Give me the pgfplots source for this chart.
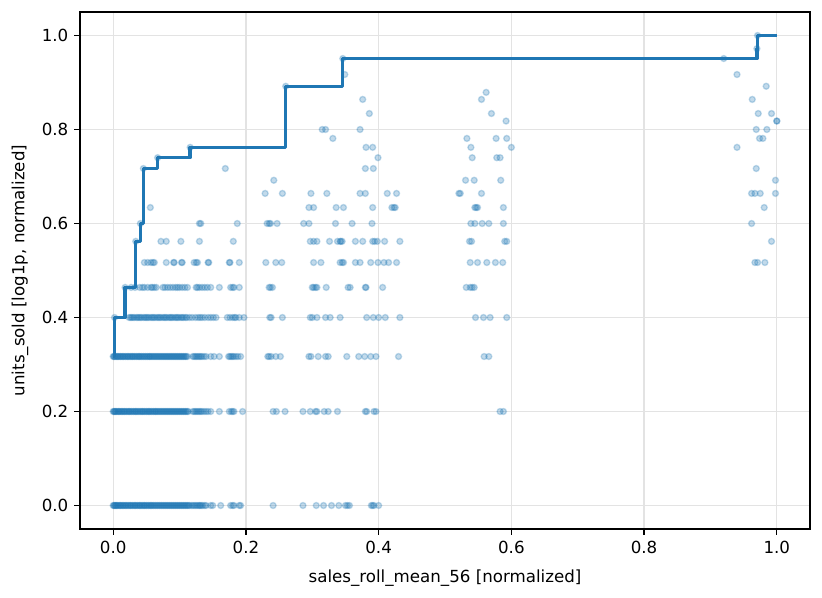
\documentclass[border=0pt]{standalone}
\usepackage{fontspec}
\setmainfont{DejaVu Sans}
\usepackage{pgfplots}
\pgfplotsset{compat=1.18}
\definecolor{tabblue}{HTML}{1F77B4}
\definecolor{gridgray}{HTML}{E3E3E3}

\begin{document}
\begin{tikzpicture}
\useasboundingbox (-48pt,-41.4pt) rectangle (445.2pt,317.4pt);
\begin{axis}[
  at={(0,0)}, anchor=south west,
  scale only axis, width=438pt, height=310.2pt,
  xmin=-0.05, xmax=1.05, ymin=-0.05, ymax=1.05,
  xtick={0,0.2,0.4,0.6,0.8,1}, ytick={0,0.2,0.4,0.6,0.8,1},
  /pgf/number format/assume math mode=true,
  xticklabel style={/pgf/number format/.cd, fixed, fixed zerofill, precision=1},
  yticklabel style={/pgf/number format/.cd, fixed, fixed zerofill, precision=1},
  tick label style={font=\fontsize{10}{12}\selectfont},
  tick align=outside, tick pos=left,
  major tick length=3.5pt,
  every tick/.append style={black, line width=0.8pt},
  axis line style={line width=0.8pt},
  grid=major, major grid style={gridgray, line width=0.8pt},
  xlabel={sales\_roll\_mean\_56 [normalized]},
  ylabel={units\_sold [log1p, normalized]},
  label style={font=\fontsize{10}{12}\selectfont},
  xlabel style={at={(axis description cs:0.5,0)}, anchor=center, yshift=-29.4pt},
  ylabel style={at={(axis description cs:0,0.5)}, anchor=center, yshift=36pt},
]
% individual observations
\addplot[only marks, mark=*, mark size=1.8pt,
  mark options={solid, draw=tabblue, fill=tabblue, opacity=0.27, line width=0.8pt}]
coordinates {
% 0 units
(0.000,0)(0.001,0)(0.002,0)(0.003,0)(0.004,0)(0.005,0)(0.006,0)(0.007,0)(0.009,0)(0.010,0)
(0.011,0)(0.012,0)(0.014,0)(0.015,0)(0.016,0)(0.018,0)(0.019,0)(0.020,0)(0.022,0)(0.023,0)
(0.025,0)(0.026,0)(0.027,0)(0.029,0)(0.030,0)(0.032,0)(0.033,0)(0.034,0)(0.036,0)(0.037,0)
(0.039,0)(0.040,0)(0.041,0)(0.043,0)(0.044,0)(0.046,0)(0.047,0)(0.048,0)(0.050,0)(0.051,0)
(0.053,0)(0.054,0)(0.056,0)(0.057,0)(0.058,0)(0.060,0)(0.061,0)(0.063,0)(0.064,0)(0.066,0)
(0.067,0)(0.069,0)(0.070,0)(0.072,0)(0.073,0)(0.075,0)(0.076,0)(0.078,0)(0.079,0)(0.081,0)
(0.082,0)(0.084,0)(0.085,0)(0.087,0)(0.088,0)(0.090,0)(0.091,0)(0.093,0)(0.094,0)(0.096,0)
(0.097,0)(0.099,0)(0.100,0)(0.102,0)(0.103,0)(0.105,0)(0.106,0)(0.108,0)(0.109,0)(0.111,0)
(0.112,0)(0.114,0)(0.115,0)
(0.118,0)(0.120,0)(0.122,0)(0.124,0)(0.126,0)(0.128,0)(0.130,0)(0.131,0)(0.133,0)(0.135,0)
(0.138,0)(0.140,0)(0.147,0)(0.150,0)(0.162,0)(0.177,0)(0.180,0)(0.182,0)(0.190,0)(0.192,0)
(0.241,0)(0.286,0)(0.306,0)(0.317,0)(0.329,0)(0.340,0)(0.350,0)(0.353,0)(0.356,0)
(0.389,0)(0.391,0)(0.393,0)(0.400,0)
% 1 unit
(0.000,0.2)(0.001,0.2)(0.002,0.2)(0.003,0.2)(0.004,0.2)(0.005,0.2)(0.007,0.2)(0.008,0.2)(0.009,0.2)(0.010,0.2)
(0.012,0.2)(0.013,0.2)(0.014,0.2)(0.016,0.2)(0.017,0.2)(0.018,0.2)(0.020,0.2)(0.021,0.2)(0.023,0.2)(0.024,0.2)
(0.025,0.2)(0.027,0.2)(0.028,0.2)(0.030,0.2)(0.031,0.2)(0.033,0.2)(0.034,0.2)(0.035,0.2)(0.037,0.2)(0.038,0.2)
(0.040,0.2)(0.041,0.2)(0.043,0.2)(0.044,0.2)(0.045,0.2)(0.047,0.2)(0.048,0.2)(0.050,0.2)(0.051,0.2)(0.053,0.2)
(0.054,0.2)(0.055,0.2)(0.057,0.2)(0.058,0.2)(0.060,0.2)(0.061,0.2)(0.063,0.2)(0.064,0.2)(0.065,0.2)(0.067,0.2)
(0.068,0.2)(0.070,0.2)(0.071,0.2)(0.073,0.2)(0.074,0.2)(0.076,0.2)(0.077,0.2)(0.079,0.2)(0.080,0.2)(0.082,0.2)
(0.083,0.2)(0.085,0.2)(0.086,0.2)(0.088,0.2)(0.089,0.2)(0.091,0.2)(0.092,0.2)(0.094,0.2)(0.095,0.2)(0.097,0.2)
(0.098,0.2)(0.100,0.2)(0.101,0.2)(0.103,0.2)(0.104,0.2)(0.106,0.2)(0.107,0.2)(0.109,0.2)(0.110,0.2)(0.112,0.2)
(0.113,0.2)
(0.120,0.2)(0.122,0.2)(0.124,0.2)(0.126,0.2)(0.128,0.2)(0.130,0.2)(0.132,0.2)(0.134,0.2)(0.137,0.2)(0.140,0.2)
(0.143,0.2)(0.147,0.2)(0.160,0.2)(0.175,0.2)(0.178,0.2)(0.180,0.2)(0.182,0.2)(0.195,0.2)
(0.241,0.2)(0.246,0.2)(0.259,0.2)(0.286,0.2)(0.297,0.2)(0.305,0.2)(0.307,0.2)(0.318,0.2)(0.324,0.2)(0.338,0.2)
(0.380,0.2)(0.382,0.2)(0.393,0.2)(0.396,0.2)(0.583,0.2)(0.588,0.2)
% 2 units
(0.000,0.317)(0.001,0.317)(0.002,0.317)(0.003,0.317)(0.005,0.317)(0.006,0.317)(0.007,0.317)(0.008,0.317)(0.010,0.317)(0.011,0.317)
(0.012,0.317)(0.014,0.317)(0.015,0.317)(0.016,0.317)(0.018,0.317)(0.019,0.317)(0.021,0.317)(0.022,0.317)(0.023,0.317)(0.025,0.317)
(0.026,0.317)(0.028,0.317)(0.029,0.317)(0.030,0.317)(0.032,0.317)(0.033,0.317)(0.035,0.317)(0.036,0.317)(0.038,0.317)(0.039,0.317)
(0.040,0.317)(0.042,0.317)(0.043,0.317)(0.045,0.317)(0.046,0.317)(0.048,0.317)(0.049,0.317)(0.051,0.317)(0.052,0.317)(0.054,0.317)
(0.055,0.317)(0.056,0.317)(0.058,0.317)(0.059,0.317)(0.061,0.317)(0.062,0.317)(0.064,0.317)(0.065,0.317)(0.067,0.317)(0.068,0.317)
(0.070,0.317)(0.071,0.317)(0.073,0.317)(0.074,0.317)(0.076,0.317)(0.077,0.317)(0.079,0.317)(0.080,0.317)(0.082,0.317)(0.083,0.317)
(0.085,0.317)(0.086,0.317)(0.088,0.317)(0.089,0.317)(0.091,0.317)(0.092,0.317)(0.094,0.317)(0.095,0.317)(0.097,0.317)(0.098,0.317)
(0.100,0.317)(0.101,0.317)(0.103,0.317)(0.104,0.317)(0.106,0.317)(0.107,0.317)(0.109,0.317)(0.110,0.317)(0.112,0.317)
(0.120,0.317)(0.122,0.317)(0.124,0.317)(0.126,0.317)(0.128,0.317)(0.130,0.317)(0.132,0.317)(0.134,0.317)(0.137,0.317)(0.140,0.317)
(0.147,0.317)(0.152,0.317)(0.160,0.317)(0.174,0.317)(0.176,0.317)(0.178,0.317)(0.180,0.317)(0.182,0.317)(0.185,0.317)(0.188,0.317)(0.192,0.317)
(0.233,0.317)(0.235,0.317)(0.238,0.317)(0.245,0.317)(0.252,0.317)(0.295,0.317)(0.298,0.317)(0.309,0.317)(0.320,0.317)(0.324,0.317)
(0.352,0.317)(0.370,0.317)(0.379,0.317)(0.388,0.317)(0.396,0.317)(0.430,0.317)(0.559,0.317)(0.566,0.317)
% 3 units
(0.002,0.4)(0.024,0.4)(0.026,0.4)(0.028,0.4)(0.030,0.4)(0.032,0.4)(0.035,0.4)(0.037,0.4)(0.039,0.4)(0.041,0.4)(0.043,0.4)
(0.046,0.4)(0.048,0.4)(0.050,0.4)(0.052,0.4)(0.054,0.4)(0.057,0.4)(0.059,0.4)(0.061,0.4)(0.063,0.4)(0.066,0.4)
(0.068,0.4)(0.070,0.4)(0.072,0.4)(0.075,0.4)(0.077,0.4)(0.079,0.4)(0.081,0.4)(0.084,0.4)(0.086,0.4)(0.088,0.4)
(0.090,0.4)(0.093,0.4)(0.095,0.4)(0.097,0.4)(0.099,0.4)(0.102,0.4)(0.104,0.4)(0.106,0.4)(0.109,0.4)(0.111,0.4)
(0.115,0.4)(0.119,0.4)(0.124,0.4)(0.128,0.4)(0.131,0.4)(0.134,0.4)(0.138,0.4)(0.143,0.4)(0.147,0.4)(0.151,0.4)(0.155,0.4)
(0.172,0.4)(0.176,0.4)(0.180,0.4)(0.183,0.4)(0.185,0.4)(0.190,0.4)(0.197,0.4)
(0.236,0.4)(0.238,0.4)(0.255,0.4)(0.297,0.4)(0.300,0.4)(0.307,0.4)(0.320,0.4)(0.327,0.4)(0.342,0.4)
(0.382,0.4)(0.392,0.4)(0.400,0.4)(0.410,0.4)(0.432,0.4)(0.546,0.4)(0.558,0.4)(0.568,0.4)(0.593,0.4)
% 4 units
(0.018,0.464)(0.027,0.464)(0.033,0.464)(0.040,0.464)(0.044,0.464)(0.047,0.464)(0.052,0.464)(0.057,0.464)(0.059,0.464)(0.062,0.464)
(0.065,0.464)(0.075,0.464)(0.078,0.464)(0.082,0.464)(0.086,0.464)(0.090,0.464)(0.094,0.464)(0.097,0.464)(0.100,0.464)(0.104,0.464)
(0.108,0.464)(0.112,0.464)(0.125,0.464)(0.127,0.464)(0.130,0.464)(0.134,0.464)(0.138,0.464)(0.142,0.464)(0.147,0.464)(0.160,0.464)
(0.177,0.464)(0.180,0.464)(0.182,0.464)(0.190,0.464)(0.235,0.464)(0.237,0.464)(0.240,0.464)(0.300,0.464)(0.302,0.464)(0.305,0.464)
(0.307,0.464)(0.321,0.464)(0.354,0.464)(0.357,0.464)(0.380,0.464)(0.381,0.464)(0.406,0.464)
(0.532,0.464)(0.538,0.464)(0.541,0.464)(0.544,0.464)
% 5 units
(0.047,0.517)(0.052,0.517)(0.057,0.517)(0.060,0.517)(0.062,0.517)(0.080,0.517)(0.091,0.517)(0.092,0.517)(0.103,0.517)(0.104,0.517)
(0.122,0.517)(0.125,0.517)(0.127,0.517)(0.143,0.517)(0.144,0.517)(0.175,0.517)(0.176,0.517)(0.190,0.517)(0.230,0.517)(0.245,0.517)
(0.254,0.517)(0.302,0.517)(0.313,0.517)(0.342,0.517)(0.345,0.517)(0.347,0.517)(0.365,0.517)(0.372,0.517)(0.388,0.517)(0.399,0.517)
(0.408,0.517)(0.415,0.517)(0.427,0.517)(0.538,0.517)(0.549,0.517)(0.563,0.517)(0.576,0.517)(0.587,0.517)
(0.967,0.517)(0.971,0.517)(0.982,0.517)
% 6 units
(0.034,0.562)(0.072,0.562)(0.080,0.562)(0.102,0.562)(0.130,0.562)(0.181,0.562)(0.297,0.562)(0.302,0.562)(0.307,0.562)(0.326,0.562)
(0.338,0.562)(0.342,0.562)(0.343,0.562)(0.345,0.562)(0.365,0.562)(0.376,0.562)(0.391,0.562)(0.394,0.562)(0.398,0.562)(0.409,0.562)
(0.432,0.562)(0.537,0.562)(0.540,0.562)(0.590,0.562)(0.593,0.562)(0.992,0.562)
% 7 units
(0.041,0.6)(0.130,0.6)(0.132,0.6)(0.187,0.6)(0.232,0.6)(0.235,0.6)(0.237,0.6)(0.247,0.6)(0.287,0.6)(0.295,0.6)
(0.335,0.6)(0.360,0.6)(0.390,0.6)(0.539,0.6)(0.545,0.6)(0.556,0.6)(0.566,0.6)(0.588,0.6)(0.962,0.6)
% 8 units
(0.056,0.634)(0.295,0.634)(0.302,0.634)(0.336,0.634)(0.347,0.634)(0.391,0.634)(0.420,0.634)(0.423,0.634)(0.425,0.634)
(0.545,0.634)(0.547,0.634)(0.549,0.634)(0.588,0.634)(0.981,0.634)
% 9 units
(0.229,0.664)(0.255,0.664)(0.298,0.664)(0.322,0.664)(0.372,0.664)(0.380,0.664)(0.413,0.664)(0.427,0.664)
(0.521,0.664)(0.523,0.664)(0.555,0.664)(0.962,0.664)(0.967,0.664)(0.975,0.664)(0.998,0.664)
% 10 and more units
(0.242,0.692)(0.531,0.692)(0.544,0.692)(0.584,0.692)(0.998,0.692)
(0.0455,0.717)(0.169,0.717)(0.380,0.717)(0.392,0.717)(0.969,0.717)
(0.067,0.740)(0.399,0.740)(0.541,0.740)(0.578,0.740)(0.583,0.740)
(0.116,0.762)(0.381,0.762)(0.391,0.762)(0.539,0.762)(0.600,0.762)(0.940,0.762)
(0.331,0.781)(0.533,0.781)(0.577,0.781)(0.593,0.781)(0.974,0.781)(0.979,0.781)
(0.315,0.8)(0.320,0.8)(0.372,0.8)(0.969,0.8)(0.985,0.8)
(0.592,0.818)(1.000,0.818)(1.000,0.818)
(0.386,0.834)(0.570,0.834)(0.972,0.834)(0.992,0.834)
(0.376,0.864)(0.555,0.864)(0.963,0.864)
(0.562,0.879)
(0.260,0.892)(0.984,0.892)
(0.349,0.917)(0.940,0.917)
(0.346,0.951)(0.920,0.951)
(0.970,0.972)(0.971,1.000)
};
% running maximum
\addplot[const plot, tabblue, line width=2pt, line join=round, mark=none]
coordinates {
(0.000,0.317)(0.002,0.400)(0.018,0.464)(0.034,0.562)(0.041,0.600)(0.0455,0.717)
(0.067,0.740)(0.116,0.762)(0.260,0.892)(0.346,0.951)(0.970,0.972)(0.971,1.000)(1.000,1.000)
};
\end{axis}
\end{tikzpicture}
\end{document}
